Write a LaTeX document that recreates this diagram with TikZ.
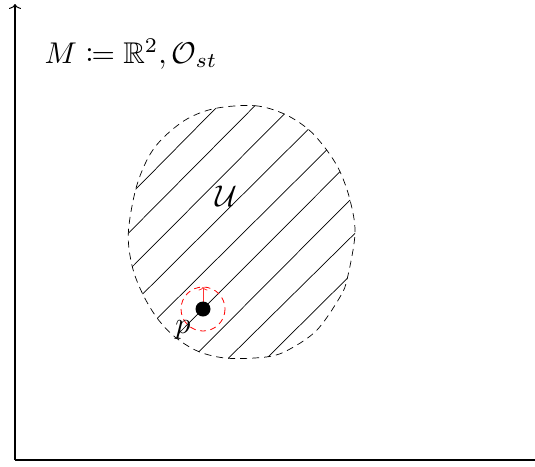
\documentclass[tikz,border=0pt]{standalone}
\usepackage{amssymb}
\usepackage{mathtools}
\usetikzlibrary{arrows.meta}
\begin{document}
\begin{tikzpicture}[x=1pt,y=-1pt,
  axis/.style={line width=1.2pt},
  hatch/.style={line width=0.7pt},
  bound/.style={line width=0.7pt,dash pattern=on 7pt off 5pt},
  redring/.style={red,line width=0.8pt,dash pattern=on 6pt off 4.5pt},
  lbl/.style={inner sep=0pt,scale=3}]
\useasboundingbox (0,0) rectangle (535,466);
% axes
\coordinate (O) at (15,460);
\coordinate (Ytop) at (15,4);
\coordinate (Xend) at (536,460);
\draw[axis,-{Computer Modern Rightarrow[length=5pt,width=12pt,line width=1pt]}] (O) -- (Ytop);
\draw[axis] (O) -- (Xend);
% label M
\node[lbl,anchor=base west] (Mlab) at (44,63) {$M \coloneqq \mathbb{R}^2, \mathcal{O}_{st}$};
% boundary
\draw[bound] plot[smooth cycle,tension=0.55] coordinates {
  (215.7,108.3) (255,105.7) (284.3,114) (308.3,129.3) (326.7,150) (340,171.7)
  (350,200) (355,233.3) (347.3,278.3) (340,297) (317,330) (290,349) (268.3,356.7) (228.3,358.3)
  (199,351.7) (175,337) (157.3,318.3) (142.7,294) (132.3,266.7) (128.3,233.3)
  (135.7,189.3) (148,158) (163,138) (187,119)};
% hatching
\draw[hatch] (135.7,189.3) -- (215.7,108.3);
\draw[hatch] (128.3,233.3) -- (255,105.7);
\draw[hatch] (132.3,266.7) -- (284.3,114);
\draw[hatch] (142.7,294) -- (308.3,129.3);
\draw[hatch] (157.3,318.3) -- (326.7,150);
\draw[hatch] (178,334) -- (340,171.7);
\draw[hatch] (199,351.7) -- (350,200);
\draw[hatch] (228.3,358.3) -- (355,233.3);
\draw[hatch] (268.3,356.7) -- (347.3,278.3);
% labels
\node[lbl] (U) at (226.5,196) {$\mathcal{U}$};
% point p
\coordinate (p) at (203,309);
\coordinate (ptop) at (203,287);
\draw[redring] (p) circle (22);
\draw[red!80,line width=1pt,-{Computer Modern Rightarrow[length=3.5pt,width=9pt,line width=0.8pt]}] (p) -- (ptop);
\fill (p) circle (7.5);
\node[lbl] (plab) at (183,330) {$p$};
\end{tikzpicture}
\end{document}
